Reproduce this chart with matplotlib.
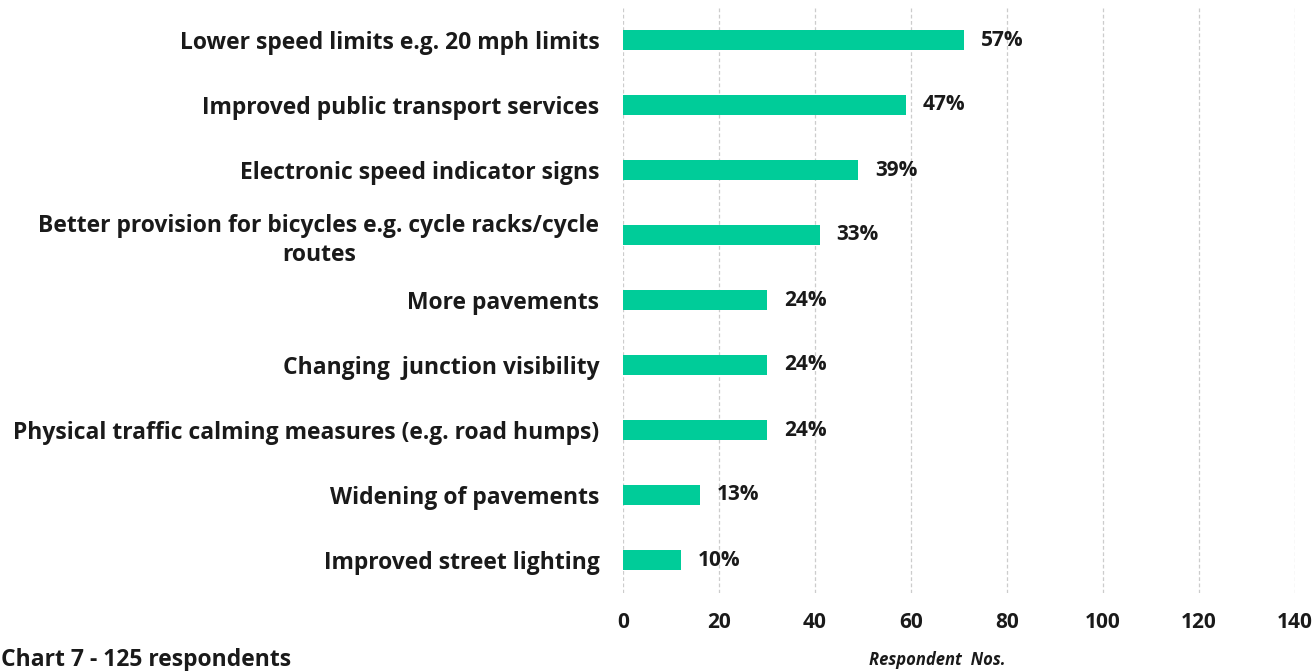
import matplotlib.pyplot as plt

categories = [
    "Lower speed limits e.g. 20 mph limits",
    "Improved public transport services",
    "Electronic speed indicator signs",
    "Better provision for bicycles e.g. cycle racks/cycle\nroutes",
    "More pavements",
    "Changing  junction visibility",
    "Physical traffic calming measures (e.g. road humps)",
    "Widening of pavements",
    "Improved street lighting",
]
counts = [71, 59, 49, 41, 30, 30, 30, 16, 12]
pct_labels = ["57%", "47%", "39%", "33%", "24%", "24%", "24%", "13%", "10%"]
xticks = [0, 20, 40, 60, 80, 100, 120, 140]

plt.rcParams['font.family'] = ['Open Sans', 'DejaVu Sans']

fig = plt.figure(figsize=(13.15, 6.71), dpi=100)
ax = fig.add_axes([623 / 1315, 1 - 592.5 / 671, (1295 - 623) / 1315, 585 / 671])

ypos = list(range(len(categories)))
ax.barh(ypos, counts, height=0.31, color="#00CC99", zorder=3)
ax.set_ylim(len(categories) - 0.5, -0.5)
ax.set_xlim(0, 140)
ax.set_yticks(ypos)
ax.set_yticklabels(categories, fontsize=16.5, fontweight="bold", color="#1a1a1a",
                   multialignment="center", linespacing=1.3)
ax.tick_params(axis="y", length=0, pad=17)
ax.set_xticks(xticks)
ax.set_xticklabels([str(t) for t in xticks], fontsize=15, fontweight="bold", color="#1a1a1a")
ax.tick_params(axis="x", length=0, pad=14)
ax.grid(axis="x", color="#cccccc", linestyle=(0, (3, 2)), linewidth=0.9, zorder=0)
for s in ax.spines.values():
    s.set_visible(False)

for y, c, t in zip(ypos, counts, pct_labels):
    ax.text(c + 3.5, y, t, va="center", ha="left", fontsize=15, fontweight="bold", color="#1a1a1a")

fig.text(0.001, 1 - 660 / 671, "Chart 7 - 125 respondents", fontsize=16.5, fontweight="bold",
         va="center", ha="left", color="#1a1a1a")
fig.text(937 / 1315, 1 - 660 / 671, "Respondent  Nos.", fontsize=12, fontweight="bold",
         style="italic", va="center", ha="center", color="#1a1a1a")

fig.savefig("out.png", dpi=100)
